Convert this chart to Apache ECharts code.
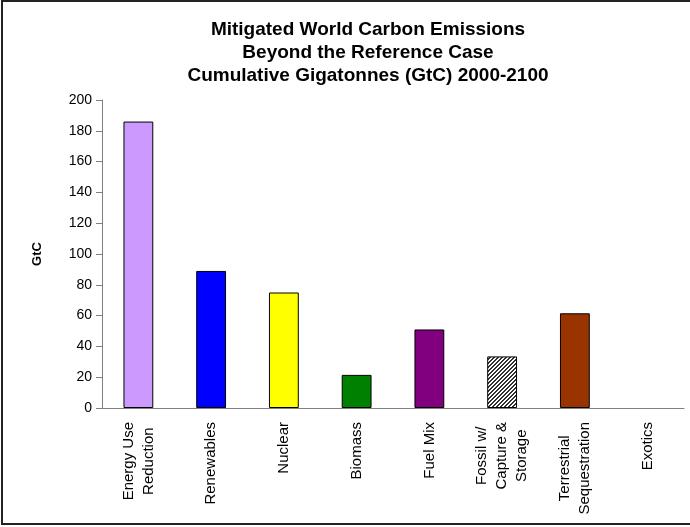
<!DOCTYPE html>
<html>
<head>
<meta charset="utf-8">
<script src="https://cdn.jsdelivr.net/npm/echarts@6/dist/echarts.min.js"></script>
<style>
  html, body { margin: 0; padding: 0; background: #fff; }
  #chart { width: 690px; height: 527px; }
</style>
</head>
<body>
<div id="chart"></div>
<script>
// Chart text and values
const titleLines = [
  'Mitigated World Carbon Emissions',
  'Beyond the Reference Case',
  'Cumulative Gigatonnes (GtC) 2000-2100'
];
const yAxisName = 'GtC';
const categories = [
  'Energy Use\nReduction',
  'Renewables',
  'Nuclear',
  'Biomass',
  'Fuel Mix',
  'Fossil w/\nCapture &\nStorage',
  'Terrestrial\nSequestration',
  'Exotics'
];
const values = [186, 89, 75, 21.5, 51, 33.5, 61.5, 0];
const yMin = 0;
const yMax = 200;
const yStep = 20;

// Fill for each bar; 'hatch' marks the striped one
const barFills = ['#CC99FF', '#0000FF', '#FFFF00', '#008000', '#800080', 'hatch', '#993300', '#C0C0C0'];

const FONT = '"Liberation Sans", Arial, sans-serif';

// Small tile with dense diagonal stripes
function makeHatch() {
  const c = document.createElement('canvas');
  c.width = 4; c.height = 4;
  const g = c.getContext('2d');
  g.fillStyle = '#ffffff';
  g.fillRect(0, 0, 4, 4);
  g.fillStyle = '#303030';
  for (let x = 0; x < 4; x++) {
    for (let y = 0; y < 4; y++) {
      const k = (x + y) % 4;
      if (k === 2 || k === 3) g.fillRect(x, y, 1, 1);
    }
  }
  return { image: c, repeat: 'repeat' };
}
const hatch = makeHatch();

const barData = values.map((v, i) => ({
  value: v,
  itemStyle: {
    color: barFills[i] === 'hatch' ? hatch : barFills[i],
    borderColor: '#000',
    borderWidth: v > 0 ? 1 : 0
  }
}));

const chart = echarts.init(document.getElementById('chart'), null, { renderer: 'canvas' });

chart.setOption({
  animation: false,
  backgroundColor: '#fff',
  textStyle: { fontFamily: FONT },
  graphic: [
    {
      type: 'rect',
      shape: { x: 2, y: 1, width: 700, height: 523 },
      style: { fill: 'none', stroke: '#222', lineWidth: 2 },
      silent: true,
      z: 100
    },
    {
      type: 'text',
      x: 368,
      y: 18,
      style: {
        text: titleLines.join('\n'),
        textAlign: 'center',
        textVerticalAlign: 'top',
        fontFamily: FONT,
        fontSize: 19,
        fontWeight: 'bold',
        lineHeight: 23,
        fill: '#000'
      }
    }
  ],
  grid: { left: 102, right: 6, top: 100, bottom: 119, containLabel: false },
  xAxis: {
    type: 'category',
    data: categories,
    axisLine: { show: true, lineStyle: { color: '#808080', width: 1 } },
    axisTick: { show: false },
    splitLine: { show: false },
    axisLabel: {
      interval: 0,
      rotate: 90,
      margin: 14,
      formatter: (v) => v.split('\n').map(s => '{c|' + s + '}').join('\n'),
      rich: {
        c: {
          align: 'center',
          fontFamily: FONT,
          fontSize: 15,
          lineHeight: 20,
          color: '#000'
        }
      }
    }
  },
  yAxis: {
    type: 'value',
    min: yMin,
    max: yMax,
    interval: yStep,
    name: yAxisName,
    nameLocation: 'middle',
    nameRotate: 90,
    nameGap: 58,
    nameTextStyle: { fontFamily: FONT, fontSize: 13, fontWeight: 'bold', color: '#000' },
    axisLine: { show: true, lineStyle: { color: '#808080', width: 1 } },
    axisTick: { show: true, inside: false, length: 6, lineStyle: { color: '#808080' } },
    splitLine: { show: false },
    axisLabel: { margin: 10, fontFamily: FONT, fontSize: 14, color: '#000' }
  },
  series: [
    {
      type: 'bar',
      data: barData,
      barWidth: '41%',
      silent: true
    }
  ]
});
</script>
</body>
</html>
